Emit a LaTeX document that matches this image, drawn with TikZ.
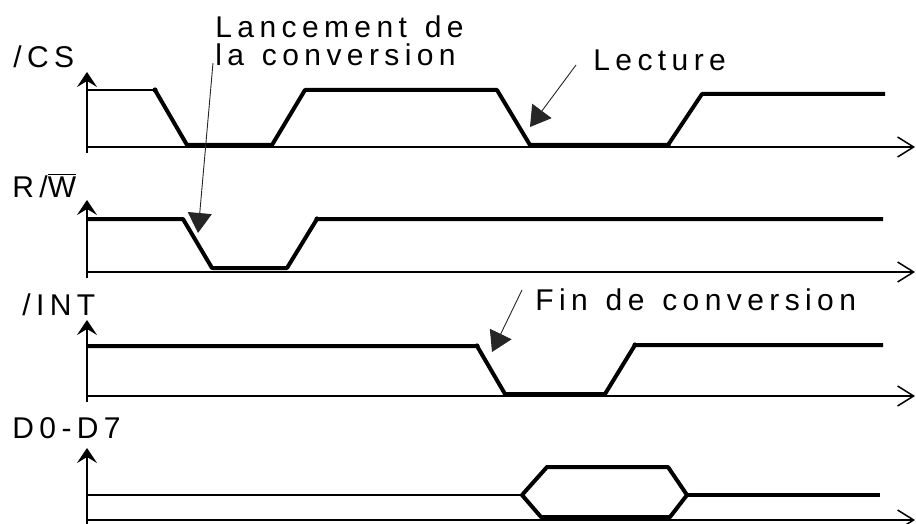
\documentclass[tikz,border=0pt]{standalone}
\usepackage{fontspec}
\usetikzlibrary{arrows.meta}
\newfontfamily\lblfont[LetterSpace=18,WordSpace=1.3]{Liberation Sans}

\begin{document}
\begin{tikzpicture}[x=0.5pt,y=-0.5pt,
  sig/.style={line width=2pt,line join=round},
  thinsig/.style={line width=1.3pt,line join=round},
  taxis/.style={line width=0.75pt,-{Straight Barb[length=8pt,width=10pt]}},
  vaxis/.style={line width=0.75pt,-{Stealth[length=7.5pt,width=10pt,inset=3pt]}},
  callout/.style={line width=0.45pt,black!85,-{Triangle[length=10pt,width=12pt]}},
  lbl/.style={font=\lblfont\fontsize{15}{14}\selectfont,inner sep=0pt}]
\useasboundingbox (0,0) rectangle (916,524);
% axes
\draw [vaxis] (87,153) -- (87,72);
\draw [taxis] (87,147) -- (915,147);
\draw [vaxis] (87,278) -- (87,200);
\draw [taxis] (87,272) -- (915,272);
\draw [vaxis] (87,402) -- (87,320);
\draw [taxis] (87,396) -- (915,396);
\draw [vaxis] (87,530) -- (87,448);
\draw [taxis] (87,520) -- (915,520);
% signal names
\node [lbl,anchor=base west] (cs) at (13,68) {/CS};
\node [lbl,anchor=base west] (rw) at (12,198) {R/$\overline{\hbox{W}}$};
\node [lbl,anchor=base west] (int) at (22,315) {/INT};
\node [lbl,anchor=base west] (data) at (12,438) {D0-D7};
% /CS
\draw [thinsig] (87,90) -- (155,90);
\draw [sig] (155,90) -- (187,145) -- (272,145) -- (305,90) -- (497,90)
  -- (530,145) -- (668,145) -- (702,94) -- (885,94);
% R/W
\draw [sig] (87,219) -- (183,219) -- (212,268) -- (287,268) -- (317,219) -- (883,219);
% /INT
\draw [sig] (87,346) -- (477,346) -- (505,394) -- (605,394) -- (635,345) -- (883,345);
% D0-D7
\draw [thinsig] (87,495) -- (522,495);
\draw [sig] (522,495) -- (547,467) -- (668,467) -- (687,495) -- (670,517)
  -- (541,517) -- cycle;
\draw [sig] (687,495) -- (880,495);
\foreach \p in {(155,90),(317,219),(477,346),(635,345),(668,145)}
  \fill \p circle (2.6);
% callouts
\node [lbl,anchor=north west,align=left] (lancement) at (215,15) {Lancement de\\la conversion};
\node [lbl,anchor=base west] (lecture) at (593,71) {Lecture};
\node [lbl,anchor=base west] (fin) at (535,310) {Fin de conversion};
\coordinate (lancementtail) at (213,63);
\coordinate (lancementtip) at (198,233);
\coordinate (lecturetail) at (576,65);
\coordinate (lecturetip) at (530,127);
\coordinate (fintail) at (522,290);
\coordinate (fintip) at (492,352);
\draw [callout] (lancementtail) -- (lancementtip);
\draw [callout] (lecturetail) -- (lecturetip);
\draw [callout] (fintail) -- (fintip);
\end{tikzpicture}
\end{document}
